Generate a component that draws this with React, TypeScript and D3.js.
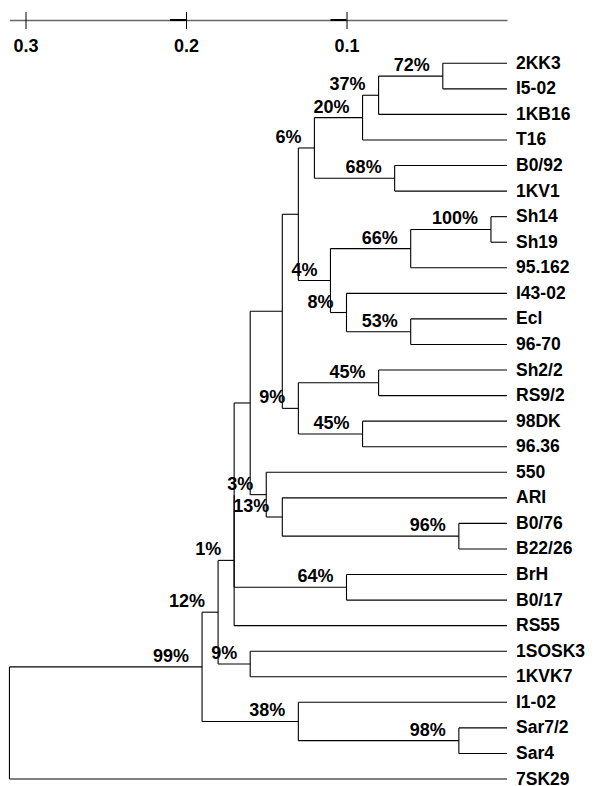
import React, { useEffect, useRef } from 'react'
import * as d3 from 'd3'

/* page size and frame of the tree */
const width = 602
const height = 786
const margin = { top: 63.3, bottom: 779, leafEnd: 507, axisY: 20 }

/* leaves, top to bottom */
const leaves = [
    '2KK3', 'I5-02', '1KB16', 'T16', 'B0/92', '1KV1', 'Sh14', 'Sh19', '95.162',
    'I43-02', 'Ecl', '96-70', 'Sh2/2', 'RS9/2', '98DK', '96.36', '550', 'ARI',
    'B0/76', 'B22/26', 'BrH', 'B0/17', 'RS55', '1SOSK3', '1KVK7', 'I1-02',
    'Sar7/2', 'Sar4', '7SK29',
]

/* clusters: [id, upper child, lower child] */
const clusters = [
    ['n1', '2KK3', 'I5-02'],
    ['n2', 'n1', '1KB16'],
    ['n3', 'n2', 'T16'],
    ['n4', 'B0/92', '1KV1'],
    ['n5', 'n3', 'n4'],
    ['n6', 'Sh14', 'Sh19'],
    ['n7', 'n6', '95.162'],
    ['n8', 'Ecl', '96-70'],
    ['n9', 'I43-02', 'n8'],
    ['n10', 'n7', 'n9'],
    ['n11', 'n5', 'n10'],
    ['n12', 'Sh2/2', 'RS9/2'],
    ['n13', '98DK', '96.36'],
    ['n14', 'n12', 'n13'],
    ['n15', 'n11', 'n14'],
    ['n16', 'B0/76', 'B22/26'],
    ['n17', 'ARI', 'n16'],
    ['n18', '550', 'n17'],
    ['n19', 'n15', 'n18'],
    ['n20', 'BrH', 'B0/17'],
    ['n21', 'n19', 'n20'],
    ['n22', 'n21', 'RS55'],
    ['n23', '1SOSK3', '1KVK7'],
    ['n24', 'n22', 'n23'],
    ['n25', 'Sar7/2', 'Sar4'],
    ['n26', 'I1-02', 'n25'],
    ['n27', 'n24', 'n26'],
    ['root', 'n27', '7SK29'],
]

/* distance of each cluster from the leaves */
const heights = [
    0.04, 0.08, 0.09, 0.07, 0.12, 0.01, 0.06, 0.06, 0.1, 0.11, 0.13, 0.08, 0.09,
    0.13, 0.14, 0.03, 0.14, 0.15, 0.16, 0.1, 0.17, 0.17, 0.16, 0.18, 0.03, 0.13,
    0.19, 0.31,
]

/* bootstrap support, '' where none is printed */
const support = [
    '72%', '37%', '20%', '68%', '6%', '100%', '66%', '53%', '8%', '4%', '', '45%',
    '45%', '9%', '', '96%', '13%', '3%', '', '64%', '', '1%', '9%', '12%', '98%',
    '38%', '99%', '',
]

const axisTicks = [0.3, 0.2, 0.1]

const font = '"Liberation Sans", Arial, Helvetica, sans-serif'

/* build the nested tree from the cluster table */
const byId = {}
leaves.forEach((name) => (byId[name] = { name, height: 0, label: '' }))
clusters.forEach(([id, a, b], i) => {
    byId[id] = {
        name: id,
        height: heights[i],
        label: support[i],
        children: [byId[a], byId[b]],
    }
})
const root = d3.hierarchy(byId['root'])

/* scales */
const xScale = d3
    .scaleLinear()
    .domain([0, 0.31])
    .range([margin.leafEnd, margin.leafEnd - 0.31 * 1605])
const yScale = d3.scalePoint().domain(leaves).range([margin.top, margin.bottom])

/* leaves take the point scale, clusters sit midway between first and last child */
root.eachAfter((d) => {
    d.px = xScale(d.data.height)
    if (!d.children) {
        d.py = yScale(d.data.name)
    } else {
        d.py = (d.children[0].py + d.children[d.children.length - 1].py) / 2
    }
})

export default function App() {
    const axisRef = useRef(null)

    useEffect(() => {
        const axis = d3
            .axisBottom(xScale)
            .tickValues(axisTicks)
            .tickFormat(d3.format('.1f'))
            .tickSize(9)
            .tickSizeOuter(0)
        const g = d3.select(axisRef.current)
        g.call(axis)
        g.select('.domain').attr('stroke', '#666').attr('stroke-width', 1.6)
        g.selectAll('.tick line').attr('y1', -8).attr('stroke', '#000')
        g.selectAll('.tick text')
            .attr('y', 32.3)
            .attr('dy', 0)
            .attr('fill', '#000')
            .style('font-family', font)
            .style('font-weight', 'bold')
            .style('font-size', '18px')
    }, [])

    const inner = root.descendants().filter((d) => d.children)

    return (
        <svg
            width={width}
            height={height}
            style={{ position: 'absolute', left: 0, top: 0, background: '#fff' }}
        >
            {/* scale bar */}
            <g ref={axisRef} transform={`translate(0, ${margin.axisY})`} />
            {axisTicks.slice(1).map((t) => (
                <line
                    key={t}
                    x1={xScale(t + 0.01)}
                    x2={xScale(t)}
                    y1={margin.axisY}
                    y2={margin.axisY}
                    stroke="#000"
                    strokeWidth={2}
                />
            ))}

            {/* elbows */}
            <g stroke="#000" strokeWidth={1.1} fill="none">
                {inner.map((d, i) => (
                    <g key={i}>
                        <line
                            x1={d.px}
                            x2={d.px}
                            y1={d.children[0].py}
                            y2={d.children[d.children.length - 1].py}
                        />
                        {d.children.map((c, j) => (
                            <line key={j} x1={d.px} x2={c.px} y1={c.py} y2={c.py} />
                        ))}
                    </g>
                ))}
            </g>

            {/* support values */}
            {inner
                .filter((d) => d.data.label)
                .map((d, i) => (
                    <text
                        key={i}
                        x={d.px - 13}
                        y={d.py - 5}
                        textAnchor="end"
                        fontFamily={font}
                        fontWeight="bold"
                        fontSize="18px"
                    >
                        {d.data.label}
                    </text>
                ))}

            {/* leaf names */}
            {root.leaves().map((d, i) => (
                <text
                    key={i}
                    x={d.px + 9}
                    y={d.py + 5.5}
                    fontFamily={font}
                    fontWeight="bold"
                    fontSize="17.5px"
                >
                    {d.data.name}
                </text>
            ))}
        </svg>
    )
}
